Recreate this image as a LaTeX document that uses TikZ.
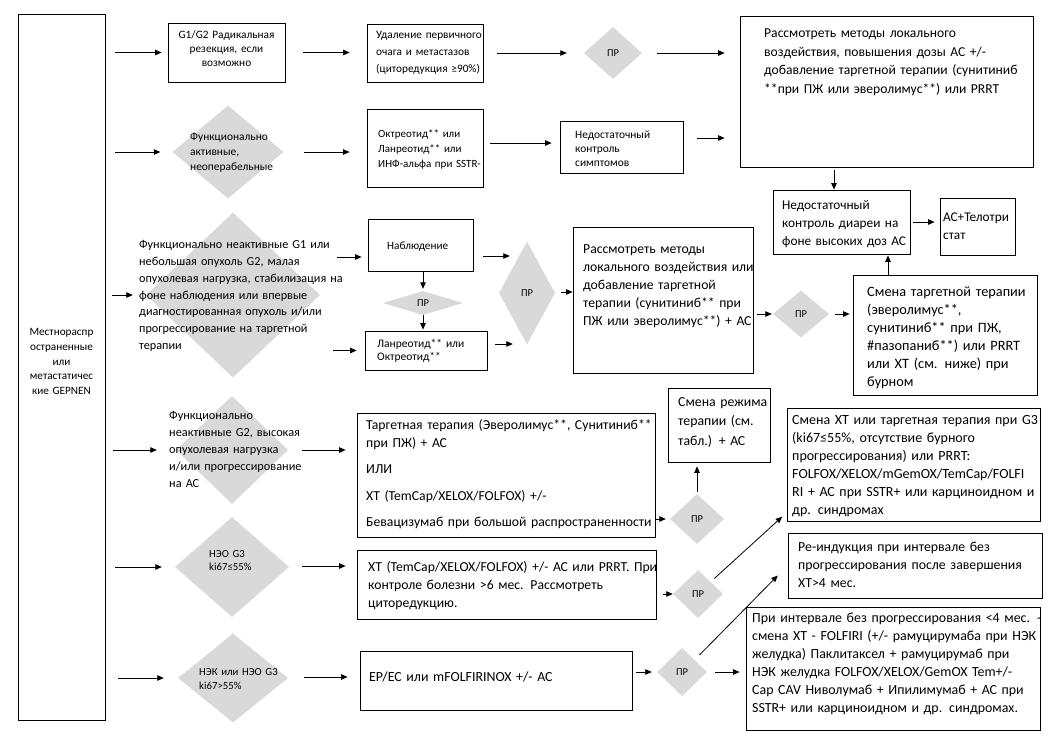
\documentclass[tikz,border=0pt]{standalone}
\usepackage{fontspec}
\setmainfont{Carlito}
\usetikzlibrary{shapes.geometric,arrows.meta,fit}
\definecolor{dgray}{HTML}{D9D9D9}
\tikzset{
  box/.style={draw, line width=0.8pt, inner sep=0pt},
  dia/.style={diamond, fill=dgray, draw=none, inner sep=0pt, font=\fontsize{10.5}{12}\selectfont},
  arr/.style={draw, line width=0.8pt, -{Triangle[length=6.5pt,width=5.5pt]}},
  tx/.style={inner sep=0pt, text width=#1, align=left, anchor=base west},
  tc/.style={inner sep=0pt, text width=#1, align=center, anchor=base},
  fL/.style={font=\fontsize{13.7}{18}\selectfont},
  fS/.style={font=\fontsize{11.4}{15}\selectfont}
}
\begin{document}
\begin{tikzpicture}[x=1pt,y=-1pt]
\path[use as bounding box, fill=white] (0,0) rectangle (1048,737);

% ---------- boxes
\node[box,fit={(18,14)(105,720)}] (L) {};
\node[box,fit={(168,23)(285,82)}] (g1) {};
\node[box,fit={(367,24)(483,82)}] (ud) {};
\node[box,fit={(740,16)(1033,167)}] (big) {};
\node[box,fit={(367,109)(483,187)}] (ok) {};
\node[box,fit={(560,121)(683,173)}] (ns) {};
\node[box,fit={(368,219)(473,271)}] (nb) {};
\node[box,fit={(365,331)(487,370)}] (lan) {};
\node[box,fit={(573,227)(753,373)}] (rm) {};
\node[box,fit={(773,190)(910,254)}] (nd) {};
\node[box,fit={(940,198)(1015,255)}] (ac) {};
\node[box,fit={(853,275)(1037,395)}] (sm) {};
\node[box,fit={(357,413)(655,537)}] (tt) {};
\node[box,fit={(668,388)(770,462)}] (srj) {};
\node[box,fit={(787,408)(1040,521)}] (sx) {};
\node[box,fit={(357,550)(656,619)}] (xt) {};
\node[box,fit={(788,533)(1042,598)}] (rei) {};
\node[box,fit={(360,651)(632,710)}] (ep) {};
\node[box,fit={(746,607)(1040,730)}] (pm) {};

% ---------- diamonds
\node[dia,minimum width=58pt,minimum height=52pt] (pr1) at (613,53) {ПР};
\node[dia,minimum width=111pt,minimum height=93pt] (d2) at (228,152) {};
\node[dia,minimum width=174pt,minimum height=165pt] (d3) at (233,295) {};
\node[dia,minimum width=80pt,minimum height=24pt] (pr2) at (423,303) {ПР};
\node[dia,minimum width=56pt,minimum height=103pt] (pr3) at (527,293) {ПР};
\node[dia,minimum width=56pt,minimum height=47pt] (pr4) at (801,314) {ПР};
\node[dia,minimum width=112pt,minimum height=108pt] (d4) at (232,450) {};
\node[dia,minimum width=54pt,minimum height=50pt] (pr5) at (697,519) {ПР};
\node[dia,minimum width=114pt,minimum height=100pt] (d5) at (232,567) {};
\node[dia,minimum width=50pt,minimum height=48pt] (pr6) at (698,594) {ПР};
\node[dia,minimum width=110pt,minimum height=89pt] (d6) at (233,678) {};
\node[dia,minimum width=50pt,minimum height=48pt] (pr7) at (682,672) {ПР};

% ---------- texts
\node[tc=85pt,font=\fontsize{11.2}{14.75}\selectfont] (Lt) at (61.5,335.5) {Местнораспр\\остраненные\\или\\метастатичес\\кие GEPNEN};
\node[tc=115pt,font=\fontsize{11.3}{14}\selectfont] (g1t) at (226.5,38.5) {G1/G2 Радикальная\\резекция, если\\возможно};
\node[tx=120pt,font=\fontsize{11.3}{17}\selectfont] (udt) at (376,38.5) {Удаление первичного\\очага и метастазов\\(циторедукция ≥90\%)};
\node[tx=290pt,font=\fontsize{13.6}{18.7}\selectfont] (bigt) at (764,37.5) {Рассмотреть методы локального\\воздействия, повышения дозы АС +/-\\добавление таргетной терапии (сунитиниб\\{}**при ПЖ или эверолимус**) или PRRT};
\node[tx=110pt,fS] (d2t) at (190,140.5) {Функционально\\активные,\\неоперабельные};
\node[tx=115pt,font=\fontsize{11}{15}\selectfont] (okt) at (378,137.5) {Октреотид** или\\Ланреотид** или\\ИНФ-альфа при SSTR-};
\node[tx=115pt,font=\fontsize{11.4}{14}\selectfont] (nst) at (575,138.5) {Недостаточный\\контроль\\симптомов};
\node[tx=230pt,font=\fontsize{12.2}{16.8}\selectfont] (d3t) at (139,248.7) {Функционально неактивные G1 или\\небольшая опухоль G2, малая\\опухолевая нагрузка, стабилизация на\\фоне наблюдения или впервые\\диагностированная опухоль и/или\\прогрессирование на таргетной\\терапии};
\node[tx=100pt,font=\fontsize{11.2}{15}\selectfont] (nbt) at (387,249.5) {Наблюдение};
\node[tx=115pt,font=\fontsize{11.5}{13}\selectfont] (lant) at (377,347.5) {Ланреотид** или\\Октреотид**};
\node[tx=180pt,font=\fontsize{13.7}{18}\selectfont] (rmt) at (583,253.5) {Рассмотреть методы\\локального воздействия или\\добавление таргетной\\терапии (сунитиниб** при\\ПЖ или эверолимус**) + АС};
\node[tx=135pt,font=\fontsize{13.3}{18}\selectfont] (ndt) at (782,209) {Недостаточный\\контроль диареи на\\фоне высоких доз АС};
\node[tx=75pt,font=\fontsize{13.3}{18}\selectfont] (act) at (943,221) {АС+Телотри\\стат};
\node[tx=180pt,font=\fontsize{14.3}{18}\selectfont] (smt) at (867,296.3) {Смена таргетной терапии\\(эверолимус**,\\сунитиниб** при ПЖ,\\\#пазопаниб**) или PRRT\\или ХТ (см. ниже) при\\бурном};
\node[tx=140pt,font=\fontsize{12.3}{17}\selectfont] (d4t) at (169,419.7) {Функционально\\неактивные G2, высокая\\опухолевая нагрузка\\и/или прогрессирование\\на АС};
\node[tx=300pt,fL] (ttt) at (366,429) {Таргетная терапия (Эверолимус**, Сунитиниб**\\при ПЖ) + АС\\[8.5pt]ИЛИ\\[8.5pt]ХТ (TemCap/XELOX/FOLFOX) +/-\\[8pt]Бевацизумаб при большой распространенности};
\node[tx=100pt,font=\fontsize{13.8}{19.5}\selectfont] (srjt) at (678,406.2) {Смена режима\\терапии (см.\\табл.) + АС};
\node[tx=260pt,font=\fontsize{14}{18}\selectfont] (sxt) at (792,424.2) {Смена ХТ или таргетная терапия при G3\\(ki67≤55\%, отсутствие бурного\\прогрессирования) или PRRT:\\FOLFOX/XELOX/mGemOX/TemCap/FOLFI\\RI + АС при SSTR+ или карциноидном и\\др. синдромах};
\node[tx=80pt,font=\fontsize{10.8}{13.5}\selectfont] (d5t) at (209,557.3) {НЭО G3\\ki67≤55\%};
\node[tx=300pt,fL] (xtt) at (368,571) {ХТ (TemCap/XELOX/FOLFOX) +/- АС или PRRT. При\\контроле болезни >6 мес. Рассмотреть\\циторедукцию.};
\node[tx=255pt,font=\fontsize{13.8}{18}\selectfont] (reit) at (798,551) {Ре-индукция при интервале без\\прогрессирования после завершения\\ХТ>4 мес.};
\node[tx=90pt,font=\fontsize{10.8}{14}\selectfont] (d6t) at (199,675.3) {НЭК или НЭО G3\\ki67>55\%};
\node[tx=270pt,font=\fontsize{13.9}{18}\selectfont] (ept) at (369,681) {EP/EC или mFOLFIRINOX +/- АС};
\node[tx=320pt,font=\fontsize{13.9}{18}\selectfont] (pmt) at (752,622.2) {При интервале без прогрессирования <4 мес. -\\смена ХТ - FOLFIRI (+/- рамуцирумаба при НЭК\\желудка) Паклитаксел + рамуцирумаб при\\НЭК желудка FOLFOX/XELOX/GemOX Tem+/-\\Cap CAV Ниволумаб + Ипилимумаб + АС при\\SSTR+ или карциноидном и др. синдромах.};

% ---------- helper coordinates
\coordinate (okns) at ([yshift=4pt]ns.west);
\coordinate (nsbig) at ([yshift=9pt]ns.east);
\coordinate (bigdn) at ([xshift=-7.5pt]nd.north);
\coordinate (nbin) at ([yshift=-12pt]nb.west);
\coordinate (nbout) at ([yshift=-11pt]nb.east);
\coordinate (lanout) at ([yshift=6.5pt]lan.east);
\coordinate (rmin) at ([yshift=8pt]rm.west);
\coordinate (smup) at ([xshift=46.5pt]nd.south);
\coordinate (xtin) at ([yshift=18.5pt]xt.west);
\coordinate (epin) at ([yshift=3.5pt]ep.west);
\coordinate (sxin) at ([xshift=-3pt,yshift=6pt]sx.south west);

% ---------- connectors
\draw[arr,shorten <=10pt,shorten >=6pt] (L.east |- g1.west) -- (g1.west);
\draw[arr,shorten <=18pt,shorten >=17pt] (g1.east) -- (g1.east -| ud.west);
\draw[arr,shorten <=14pt,shorten >=17pt] (ud.east) -- (ud.east -| pr1.west);
\draw[arr,shorten <=15pt,shorten >=15pt] (pr1.east) -- (pr1.east -| big.west);
\draw[arr,shorten <=10pt,shorten >=12pt] (L.east |- d2.west) -- (d2.west);
\draw[arr,shorten <=20pt,shorten >=17pt] (d2.east) -- (d2.east -| ok.west);
\draw[arr,shorten <=7pt,shorten >=8pt] (okns -| ok.east) -- (okns);
\draw[arr,shorten <=14pt,shorten >=15pt] (nsbig) -- (nsbig -| big.west);
\draw[arr,shorten <=3pt] (bigdn |- big.south) -- (bigdn);
\draw[arr,shorten <=7pt,shorten >=13pt] (L.east |- d3.west) -- (d3.west);
\draw[arr,shorten <=17pt,shorten >=6pt] (nbin -| d3.east) -- (nbin);
\draw[arr,shorten >=2pt] (pr2.north |- nb.south) -- (pr2.north);
\draw[arr,shorten >=1pt] (pr2.south) -- (pr2.south |- lan.north);
\draw[arr,shorten <=13pt,shorten >=8pt] (d3.east |- lan.west) -- (lan.west);
\draw[arr,shorten <=10pt,shorten >=-11pt] (nbout) -- (nbout -| pr3.west);
\draw[arr,shorten <=8pt,shorten >=-14pt] (lanout) -- (lanout -| pr3.west);
\draw[arr,shorten <=6pt] (rmin -| pr3.east) -- (rmin);
\draw[arr,shorten <=4pt,shorten >=1pt] (pr4.west -| rm.east) -- (pr4.west);
\draw[arr,shorten <=6pt,shorten >=3pt] (pr4.east) -- (pr4.east -| sm.west);
\draw[arr,shorten >=1pt] (smup |- sm.north) -- (smup);
\draw[arr,shorten <=3pt,shorten >=5pt] (nd.east) -- (nd.east -| ac.west);
\draw[arr,shorten <=8pt,shorten >=19pt] (L.east |- d4.west) -- (d4.west);
\draw[arr,shorten <=14pt,shorten >=11pt] (d4.east) -- (d4.east -| tt.west);
\draw[arr,shorten >=4pt] (pr5.west -| tt.east) -- (pr5.west);
\draw[arr,shorten <=2pt,shorten >=4pt] (pr5.north) -- (pr5.north |- srj.south);
\draw[arr,shorten <=10pt,shorten >=13pt] (L.east |- d5.west) -- (d5.west);
\draw[arr,shorten <=13pt,shorten >=11pt] (xtin -| d5.east) -- (xtin);
\draw[arr,shorten <=7pt] (pr6.west -| xt.east) -- (pr6.west);
\draw[arr,shorten <=5pt,shorten >=2pt] (pr6.north east) -- (sxin);
\draw[arr,shorten <=13pt,shorten >=14pt] (L.east |- d6.west) -- (d6.west);
\draw[arr,shorten <=16pt,shorten >=12pt] (epin -| d6.east) -- (epin);
\draw[arr,shorten <=4pt,shorten >=5pt] (pr7.west -| ep.east) -- (pr7.west);
\draw[arr,shorten <=8pt,shorten >=6pt] (pr7.east) -- (pr7.east -| pm.west);
\draw[arr,shorten <=7pt,shorten >=14pt] (pr7.north east) -- (rei.west);
\end{tikzpicture}
\end{document}
